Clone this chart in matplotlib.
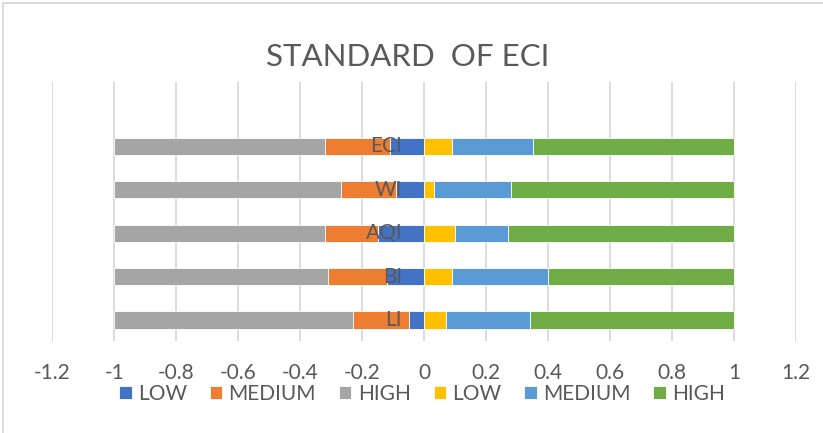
import numpy as np
import matplotlib
matplotlib.use("Agg")
import matplotlib.pyplot as plt
from matplotlib.lines import Line2D

plt.rcParams['font.family'] = ['Lato', 'DejaVu Sans']
plt.rcParams['axes.unicode_minus'] = False

categories = ['LI', 'BI', 'AQI', 'WI', 'ECI']
# left half (drawn as negatives) and right half of the stacked bars
neg_low = [0.05, 0.12, 0.15, 0.09, 0.11]
neg_medium = [0.18, 0.19, 0.17, 0.18, 0.21]
neg_high = [0.77, 0.69, 0.68, 0.73, 0.68]
pos_low = [0.07, 0.09, 0.10, 0.03, 0.09]
pos_medium = [0.27, 0.31, 0.17, 0.25, 0.26]
pos_high = [0.66, 0.60, 0.73, 0.72, 0.65]
x_ticks = [-1.2, -1, -0.8, -0.6, -0.4, -0.2, 0, 0.2, 0.4, 0.6, 0.8, 1, 1.2]

text_col = '#595959'
grid_col = '#D9D9D9'

fig = plt.figure(figsize=(8.23, 4.33), dpi=100)
ax = fig.add_axes([52.3 / 823, 92 / 433, 744 / 823, 259 / 433])

y = np.arange(len(categories))
h = 0.4
bar_kw = dict(height=h, edgecolor='white', linewidth=0.6, zorder=3)

# negative side, stacked outward from zero
left = np.zeros(len(categories))
for vals, col, lab in [(neg_low, '#4472C4', 'LOW'),
                       (neg_medium, '#ED7D31', 'MEDIUM'),
                       (neg_high, '#A5A5A5', 'HIGH')]:
    v = -np.array(vals)
    ax.barh(y, v, left=left, color=col, label=lab, **bar_kw)
    left = left + v

# positive side
left = np.zeros(len(categories))
for vals, col, lab in [(pos_low, '#FFC000', 'LOW'),
                       (pos_medium, '#5B9BD5', 'MEDIUM'),
                       (pos_high, '#70AD47', 'HIGH')]:
    v = np.array(vals)
    ax.barh(y, v, left=left, color=col, label=lab, **bar_kw)
    left = left + v

ax.set_xlim(-1.2, 1.2)
ax.set_ylim(-0.48, 5.48)
ax.set_xticks(x_ticks)
ax.set_xticklabels([f'{t:g}' for t in x_ticks])
ax.set_yticks([])
ax.tick_params(axis='x', length=0, labelsize=15, labelcolor=text_col, pad=16)
ax.grid(axis='x', color=grid_col, linewidth=1.3, zorder=0)
for s in ax.spines.values():
    s.set_visible(False)

# category names sit just left of the zero line
for yi, name in zip(y, categories):
    ax.annotate(name, (0, yi), xytext=(-16, 0), textcoords='offset points',
                ha='right', va='center', fontsize=15, color=text_col, zorder=5)

fig.text(0.495, 1 - 57 / 433, 'STANDARD  OF ECI', ha='center', va='center',
         fontsize=22.5, color=text_col)

ax.legend(loc='center', bbox_to_anchor=(0.497, -0.205), ncol=6, frameon=False,
          fontsize=15, labelcolor=text_col, handlelength=0.6, handleheight=0.6,
          handletextpad=0.3, columnspacing=1.1)

# chart-area border (left and top edges only visible)
fig.add_artist(Line2D([3 / 823, 3 / 823], [0, 1 - 3 / 433], color=grid_col, linewidth=1.3))
fig.add_artist(Line2D([3 / 823, 1], [1 - 3 / 433, 1 - 3 / 433], color=grid_col, linewidth=1.3))

fig.savefig('out.png', dpi=100)
